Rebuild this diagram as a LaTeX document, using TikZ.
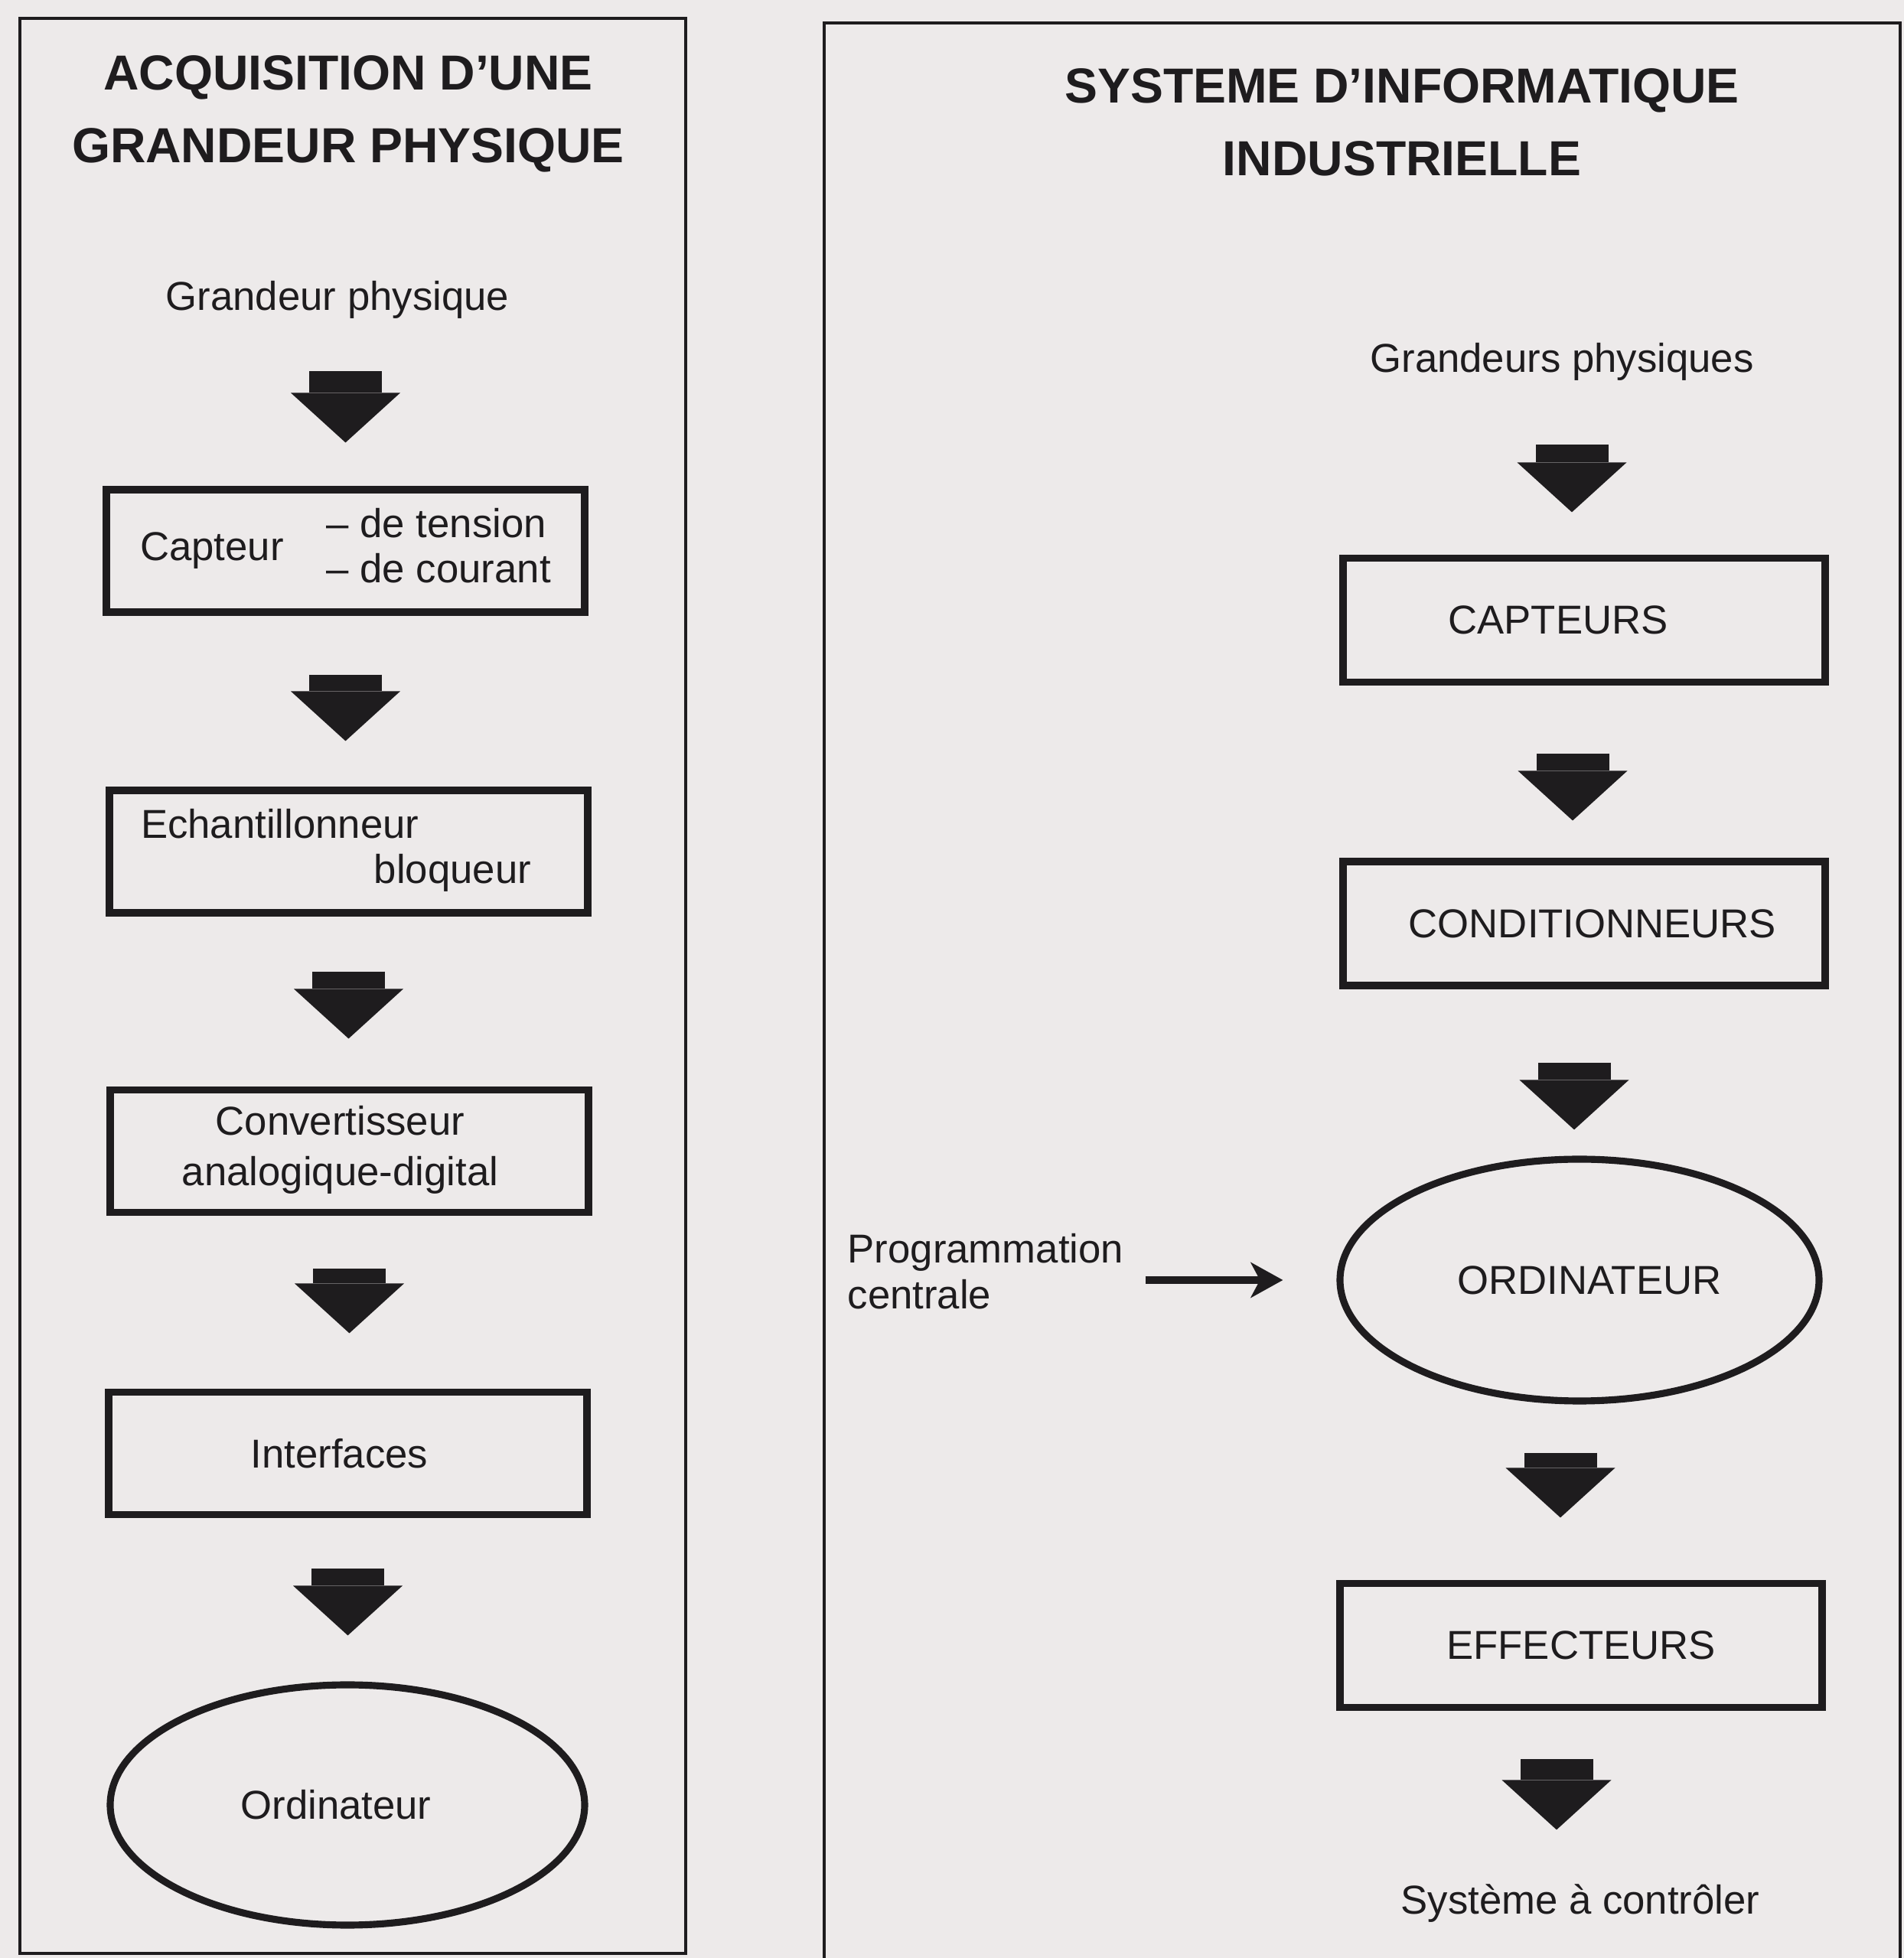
\documentclass[tikz,border=0pt]{standalone}
\usepackage{fontspec}
\setmainfont{Liberation Sans}
\usetikzlibrary{arrows.meta,shapes.geometric,calc}
\definecolor{papier}{RGB}{237,234,234}
\definecolor{encre}{RGB}{30,28,30}

\begin{document}
\begin{tikzpicture}[font=\fontsize{15}{17}\selectfont, color=encre,
	boite/.style={draw, line width=2.6pt, minimum width=6.25cm, minimum height=1.6cm, inner sep=0pt},
	ovale/.style={draw, ellipse, line width=2.6pt, minimum width=6.2cm, minimum height=3.14cm, inner sep=0pt},
	texte/.style={inner sep=1.5mm},
	titre/.style={align=center, font=\bfseries\fontsize{18.3}{27}\selectfont},
	fat/.style={line width=9.5mm, -{Triangle[length=6.5mm, width=14.3mm, line width=0pt]}},
	fleche/.style={line width=2.6pt, -{Stealth[length=4.2mm, width=4.6mm, inset=1.2mm]}},
	cadre/.style={line width=1.2pt}]
	\path[use as bounding box, fill=papier] (0,0) rectangle (24.88,25.59);
	% the two panels
	\draw[cadre] (0.26,0.06) rectangle (8.96,25.35);
	\draw[cadre] (10.77,0) |- (24.83,25.29) -- (24.83,0);
	% left: acquisition
	\node[titre] (titreA) at (4.55,24.10) {ACQUISITION D’UNE\\GRANDEUR PHYSIQUE};
	\node[texte] (grandeur) at (4.41,21.67) {Grandeur physique};
	\node[boite] (capteur) at (4.515,18.39) {Capteur\hspace{0.56cm}\begin{tabular}{@{}l@{}}– de tension\\– de courant\end{tabular}};
	\node[boite] (echant) at (4.555,14.46) {\begin{tabular}{@{}p{5.1cm}@{}}Echantillonneur\\\hspace*{\fill}bloqueur\end{tabular}\hspace*{0.33cm}};
	\node[boite] (convert) at (4.565,10.545) {\begin{tabular}{@{}c@{}}Convertisseur\\[2pt]analogique-digital\end{tabular}\hspace*{0.24cm}};
	\node[boite] (interf) at (4.545,6.595) {Interfaces\hspace*{0.22cm}};
	\node[ovale] (ordin) at (4.54,2.0) {Ordinateur\hspace*{0.3cm}};
	\draw[fat, shorten <=5.3mm, shorten >=5.7mm] (capteur.north |- grandeur.south) -- (capteur.north);
	\draw[fat, shorten <=7.7mm, shorten >=6mm] (capteur.south) -- (capteur.south |- echant.north);
	\draw[fat, shorten <=7.2mm, shorten >=6.25mm] (echant.south) -- (echant.south |- convert.north);
	\draw[fat, shorten <=6.85mm, shorten >=7.25mm] (convert.south) -- (convert.south |- interf.north);
	\draw[fat, shorten <=6.55mm, shorten >=6mm] (interf.south) -- (interf.south |- ordin.north);
	% right: informatique industrielle
	\node[titre] (titreB) at (18.32,23.99) {SYSTEME D’INFORMATIQUE\\INDUSTRIELLE};
	\node[texte] (grandeurs) at (20.41,20.86) {Grandeurs physiques};
	\node[boite, minimum width=6.3cm, minimum height=1.62cm] (capteurs) at (20.70,17.485) {CAPTEURS\hspace*{0.68cm}};
	\node[boite, minimum width=6.3cm, minimum height=1.62cm] (condit) at (20.70,13.52) {\hspace*{0.22cm}CONDITIONNEURS};
	\node[ovale, minimum width=6.26cm, minimum height=3.16cm] (ordinateur) at (20.64,8.86) {\hspace*{0.26cm}ORDINATEUR};
	\node[texte, anchor=west, align=left] (program) at (10.92,8.97) {Programmation\\centrale};
	\node[boite, minimum width=6.3cm, minimum height=1.62cm] (effect) at (20.66,4.085) {EFFECTEURS};
	\node[texte] (systeme) at (20.65,0.71) {Système à contrôler};
	\draw[fat, shorten <=6.8mm, shorten >=5.55mm] ($(capteurs.north |- grandeurs.south)+(-0.16,0)$) -- ($(capteurs.north)+(-0.16,0)$);
	\draw[fat, shorten <=8.85mm, shorten >=4.9mm] ($(capteurs.south)+(-0.15,0)$) -- ($(capteurs.south |- condit.north)+(-0.15,0)$);
	\draw[fat, shorten <=9.6mm, shorten >=3.4mm] ($(condit.south)+(-0.13,0)$) -- ($(condit.south |- ordinateur.north)+(-0.13,0)$);
	\draw[fat, shorten <=6.3mm, shorten >=8.15mm] ($(ordinateur.south)+(-0.25,0)$) -- ($(ordinateur.south |- effect.north)+(-0.25,0)$);
	\draw[fat, shorten <=6.25mm, shorten >=5.6mm] ($(effect.south)+(-0.32,0)$) -- ($(effect.south |- systeme.north)+(-0.32,0)$);
	\draw[fleche, shorten <=1.3mm, shorten >=7mm] (program.east |- ordinateur.west) -- (ordinateur.west);
\end{tikzpicture}
\end{document}
